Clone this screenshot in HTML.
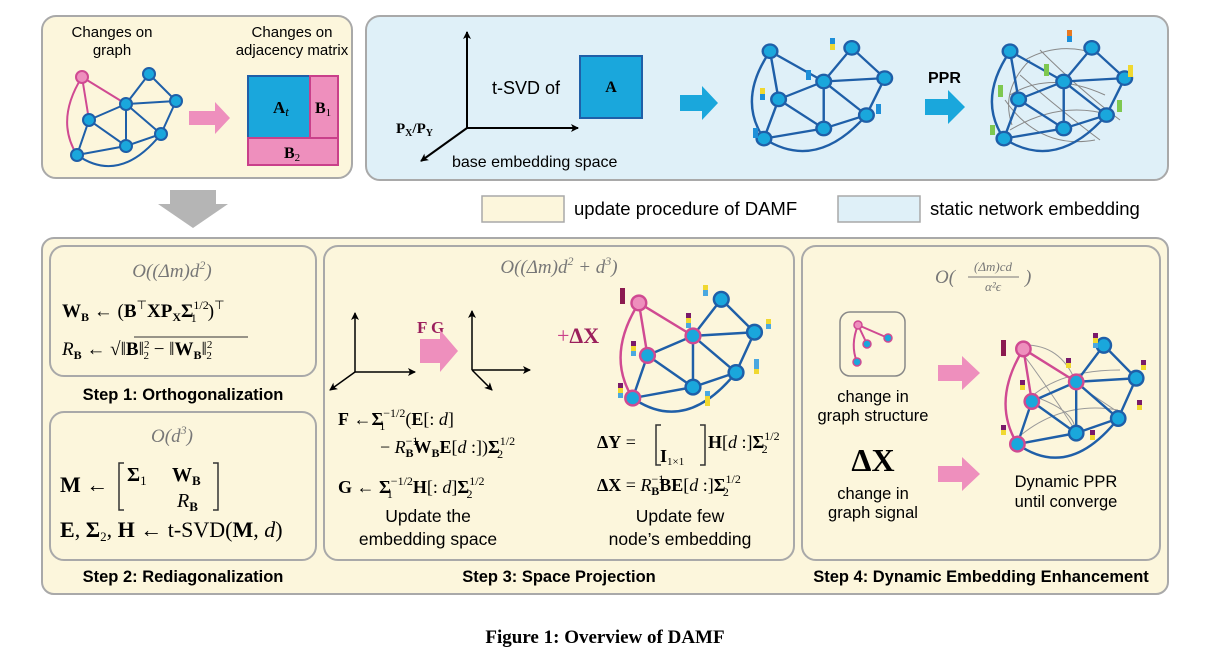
<!DOCTYPE html>
<html><head><meta charset="utf-8"><style>
html,body{margin:0;padding:0;background:#fff;}
svg{display:block;font-family:"Liberation Sans",sans-serif;}
.m{font-family:"Liberation Serif",serif;}
</style></head><body>
<svg width="1210" height="661" viewBox="0 0 1210 661" xmlns="http://www.w3.org/2000/svg">
<defs>
<marker id="ah" markerWidth="8" markerHeight="8" refX="7" refY="4" orient="auto" markerUnits="userSpaceOnUse"><path d="M0,0 L8,4 L0,8 L2,4z" fill="#000"/></marker>
<g id="gedges">
 <path d="M149,74 L126,104 M149,74 L176,101 M126,104 L176,101 M126,104 L89,120 M126,104 L126,146 M126,104 L161,134 M176,101 L161,134 M89,120 L126,146 M89,120 L77,155 M77,155 L126,146 M126,146 L161,134 M77,155 Q120,185 161,134" stroke="#1f5fa8" stroke-width="2" fill="none"/>
</g>
<g id="gplain">
 <use href="#gedges"/>
 <path d="M82,77 L126,104 M82,77 L89,120 M82,77 Q55,120 77,155" stroke="#1f5fa8" stroke-width="2" fill="none"/>
 <g fill="#1aa7dc" stroke="#1f5fa8" stroke-width="2">
 <circle cx="82" cy="77" r="6"/><circle cx="149" cy="74" r="6"/><circle cx="176" cy="101" r="6"/><circle cx="126" cy="104" r="6"/><circle cx="89" cy="120" r="6"/><circle cx="161" cy="134" r="6"/><circle cx="126" cy="146" r="6"/><circle cx="77" cy="155" r="6"/></g>
</g>
<g id="gpink">
 <use href="#gedges"/>
 <path d="M82,77 L126,104 M82,77 L89,120 M82,77 Q55,120 77,155" stroke="#d04a92" stroke-width="2" fill="none"/>
 <circle cx="82" cy="77" r="6" fill="#ee8fbd" stroke="#d04a92" stroke-width="2"/>
 <g fill="#1aa7dc" stroke="#1f5fa8" stroke-width="2">
 <circle cx="149" cy="74" r="6"/><circle cx="176" cy="101" r="6"/><circle cx="161" cy="134" r="6"/><circle cx="126" cy="146" r="6"/></g>
</g>
<g id="gpink2">
 <use href="#gedges"/>
 <path d="M82,77 L126,104 M82,77 L89,120 M82,77 Q55,120 77,155" stroke="#d04a92" stroke-width="2" fill="none"/>
 <circle cx="82" cy="77" r="6" fill="#ee8fbd" stroke="#d04a92" stroke-width="2"/>
 <g fill="#1aa7dc" stroke="#1f5fa8" stroke-width="2">
 <circle cx="149" cy="74" r="6"/><circle cx="176" cy="101" r="6"/><circle cx="161" cy="134" r="6"/><circle cx="126" cy="146" r="6"/></g>
 <g fill="#1aa7dc" stroke="#d04a92" stroke-width="2">
 <circle cx="126" cy="104" r="6"/><circle cx="89" cy="120" r="6"/><circle cx="77" cy="155" r="6"/></g>
</g>
</defs>

<!-- top left -->
<rect x="42" y="16" width="310" height="162" rx="14" fill="#fcf6dc" stroke="#a9a9a9" stroke-width="2"/>
<text x="112" y="37" font-size="15" text-anchor="middle">Changes on</text>
<text x="112" y="55" font-size="15" text-anchor="middle">graph</text>
<text x="292" y="37" font-size="15" text-anchor="middle">Changes on</text>
<text x="292" y="55" font-size="15" text-anchor="middle">adjacency matrix</text>
<use href="#gpink"/>
<g fill="#1aa7dc" stroke="#1f5fa8" stroke-width="2"><circle cx="126" cy="104" r="6"/><circle cx="89" cy="120" r="6"/><circle cx="77" cy="155" r="6"/></g>
<path d="M189,111 L215,111 L215,102 L230,118 L215,134 L215,125 L189,125z" fill="#ee8fbd"/>
<rect x="248" y="76" width="62" height="62" fill="#1aa7dc" stroke="#1f5fa8" stroke-width="2"/>
<rect x="310" y="76" width="28" height="62" fill="#ee8fbd" stroke="#c9408a" stroke-width="2"/>
<rect x="248" y="138" width="90" height="27" fill="#ee8fbd" stroke="#c9408a" stroke-width="2"/>
<text x="273" y="113" class="m" font-size="17" font-weight="bold">A<tspan font-style="italic" font-weight="normal" font-size="13" dy="3">t</tspan></text>
<text x="315" y="113" class="m" font-size="16" font-weight="bold">B<tspan font-weight="normal" font-size="11" dy="3">1</tspan></text>
<text x="284" y="158" class="m" font-size="16" font-weight="bold">B<tspan font-weight="normal" font-size="11" dy="3">2</tspan></text>

<!-- top right -->
<rect x="366" y="16" width="802" height="164" rx="14" fill="#dff0f8" stroke="#a9a9a9" stroke-width="2"/>
<path d="M467,128 L467,32" stroke="#000" stroke-width="2" marker-end="url(#ah)"/>
<path d="M467,128 L578,128" stroke="#000" stroke-width="2" marker-end="url(#ah)"/>
<path d="M467,128 L421,161" stroke="#000" stroke-width="2" marker-end="url(#ah)"/>
<text x="396" y="133" class="m" font-size="15" font-weight="bold">P<tspan font-size="10" dy="3">X</tspan><tspan dy="-3">/P</tspan><tspan font-size="10" dy="3">Y</tspan></text>
<text x="492" y="94" font-size="18">t-SVD of</text>
<rect x="580" y="56" width="62" height="62" fill="#1aa7dc" stroke="#1f5fa8" stroke-width="2"/>
<text x="611" y="92" class="m" font-size="16" font-weight="bold" text-anchor="middle">A</text>
<text x="452" y="167" font-size="16">base embedding space</text>
<path d="M680,95 L702,95 L702,86 L718,103 L702,120 L702,111 L680,111z" fill="#1aa7dc"/>
<g transform="translate(670,-35) scale(1.22,1.12)"><use href="#gplain"/></g>
<text x="928" y="83" font-size="16" font-weight="bold">PPR</text>
<path d="M925,99 L948,99 L948,90 L965,107 L948,124 L948,115 L925,115z" fill="#1aa7dc"/>
<g stroke="#888" stroke-width="1" fill="none">
<path d="M1025,60 Q1060,40 1100,55 M1010,95 Q1050,70 1105,95 M1010,130 Q1060,100 1110,115 M1020,75 Q1060,110 1100,140 M1040,50 Q1080,90 1120,120 M1005,100 Q1040,150 1095,140 M1030,60 Q1000,90 1012,125"/>
</g>
<g transform="translate(910,-35) scale(1.22,1.12)"><use href="#gplain"/></g>
<g>
<rect x="830" y="38" width="5" height="6" fill="#1e8fd8"/><rect x="830" y="44" width="5" height="6" fill="#f0d830"/>
<rect x="806" y="70" width="5" height="10" fill="#1e8fd8"/>
<rect x="876" y="104" width="5" height="10" fill="#1e8fd8"/>
<rect x="760" y="88" width="5" height="6" fill="#f0d830"/><rect x="760" y="94" width="5" height="6" fill="#1e8fd8"/>
<rect x="753" y="128" width="5" height="10" fill="#1e8fd8"/>
<rect x="1067" y="30" width="5" height="6" fill="#e87820"/><rect x="1067" y="36" width="5" height="6" fill="#1e8fd8"/>
<rect x="1128" y="65" width="5" height="12" fill="#f0d830"/>
<rect x="1044" y="64" width="5" height="12" fill="#7ec850"/>
<rect x="1117" y="100" width="5" height="12" fill="#7ec850"/>
<rect x="998" y="85" width="5" height="12" fill="#7ec850"/>
<rect x="990" y="125" width="5" height="10" fill="#7ec850"/>
</g>

<!-- legend -->
<path d="M170,190 L216,190 L216,204 L228,204 L193,228 L158,204 L170,204z" fill="#b5b5b5"/>
<rect x="482" y="196" width="82" height="26" fill="#fcf6dc" stroke="#a9a9a9" stroke-width="1.5"/>
<text x="574" y="215" font-size="18.5">update procedure of DAMF</text>
<rect x="838" y="196" width="82" height="26" fill="#dff0f8" stroke="#a9a9a9" stroke-width="1.5"/>
<text x="930" y="215" font-size="18.5">static network embedding</text>

<!-- big box -->
<rect x="42" y="238" width="1126" height="356" rx="12" fill="#fcf6dc" stroke="#a9a9a9" stroke-width="2"/>
<rect x="50" y="246" width="266" height="130" rx="14" fill="#fcf6dc" stroke="#a9a9a9" stroke-width="2"/>
<rect x="50" y="412" width="266" height="148" rx="14" fill="#fcf6dc" stroke="#a9a9a9" stroke-width="2"/>
<rect x="324" y="246" width="470" height="314" rx="14" fill="#fcf6dc" stroke="#a9a9a9" stroke-width="2"/>
<rect x="802" y="246" width="358" height="314" rx="14" fill="#fcf6dc" stroke="#a9a9a9" stroke-width="2"/>
<g font-size="16.5" font-weight="bold" text-anchor="middle">
<text x="183" y="400">Step 1: Orthogonalization</text>
<text x="183" y="582">Step 2: Rediagonalization</text>
<text x="559" y="582">Step 3: Space Projection</text>
<text x="981" y="582">Step 4: Dynamic Embedding Enhancement</text>
</g>

<!-- step1 -->
<g class="m" font-size="19">
<text x="172" y="277" text-anchor="middle" fill="#777" font-style="italic">O((Δm)d<tspan font-size="12" dy="-8">2</tspan><tspan dy="8">)</tspan></text>
<text x="62" y="317"><tspan font-weight="bold">W</tspan><tspan font-size="12" dy="4" font-weight="bold">B</tspan><tspan dy="-4"> ← (</tspan><tspan font-weight="bold">B</tspan><tspan font-size="12" dy="-8">⊤</tspan><tspan dy="8" font-weight="bold">XP</tspan><tspan font-size="12" dy="4" font-weight="bold">X</tspan><tspan dy="-4" font-weight="bold">Σ</tspan><tspan font-size="12" dy="-8">1/2</tspan><tspan font-size="12" dx="-18" dy="13">1</tspan><tspan dx="11" dy="-5">)</tspan><tspan font-size="12" dy="-8">⊤</tspan></text>
<text x="62" y="355"><tspan font-style="italic">R</tspan><tspan font-size="12" dy="4" font-weight="bold">B</tspan><tspan dy="-4"> ← √</tspan><tspan>‖</tspan><tspan font-weight="bold">B</tspan><tspan>‖</tspan><tspan font-size="11" dy="-7">2</tspan><tspan font-size="11" dx="-6" dy="11">2</tspan><tspan dy="-4"> − ‖</tspan><tspan font-weight="bold">W</tspan><tspan font-size="12" dy="4" font-weight="bold">B</tspan><tspan dy="-4">‖</tspan><tspan font-size="11" dy="-7">2</tspan><tspan font-size="11" dx="-6" dy="11">2</tspan></text>
<path d="M134,337 L248,337" stroke="#333" stroke-width="1"/>
<text x="172" y="442" text-anchor="middle" fill="#777" font-style="italic">O(d<tspan font-size="12" dy="-8">3</tspan><tspan dy="8">)</tspan></text>
<text x="60" y="492" font-size="22"><tspan font-weight="bold">M</tspan> ←</text>
<path d="M124,463 L119,463 L119,510 L124,510 M213,463 L218,463 L218,510 L213,510" stroke="#333" stroke-width="1.5" fill="none"/>
<text x="127" y="481" font-size="20" font-weight="bold">Σ<tspan font-size="13" font-weight="normal" dy="4">1</tspan></text>
<text x="172" y="481" font-size="20" font-weight="bold">W<tspan font-size="13" dy="4">B</tspan></text>
<text x="177" y="507" font-size="20" font-style="italic">R<tspan font-size="13" font-weight="bold" font-style="normal" dy="4">B</tspan></text>
<text x="60" y="537" font-size="22"><tspan font-weight="bold">E</tspan>, <tspan font-weight="bold">Σ</tspan><tspan font-size="13" dy="4">2</tspan><tspan dy="-4">, </tspan><tspan font-weight="bold">H</tspan> ← t-SVD(<tspan font-weight="bold">M</tspan>, <tspan font-style="italic">d</tspan>)</text>
</g>

<!-- step3 -->
<g class="m">
<text x="559" y="273" text-anchor="middle" fill="#777" font-style="italic" font-size="19">O((Δm)d<tspan font-size="12" dy="-8">2</tspan><tspan dy="8"> + d</tspan><tspan font-size="12" dy="-8">3</tspan><tspan dy="8">)</tspan></text>
<text x="417" y="333" font-size="17" font-weight="bold" fill="#9b1f5c">F  G</text>
<text x="557" y="343" font-size="22" fill="#c9408a">+<tspan font-weight="bold" fill="#9b1f5c">ΔX</tspan></text>
</g>
<path d="M420,339 L440,339 L440,330 L458,351 L440,372 L440,363 L420,363z" fill="#ee8fbd"/>
<path d="M355,372 L355,313" stroke="#000" stroke-width="1.5" marker-end="url(#ah)"/>
<path d="M355,372 L415,372" stroke="#000" stroke-width="1.5" marker-end="url(#ah)"/>
<path d="M355,372 L330,390" stroke="#000" stroke-width="1.5" marker-end="url(#ah)"/>
<path d="M472,370 L472,311" stroke="#000" stroke-width="1.5" marker-end="url(#ah)"/>
<path d="M472,370 L530,370" stroke="#000" stroke-width="1.5" marker-end="url(#ah)"/>
<path d="M472,370 L492,390" stroke="#000" stroke-width="1.5" marker-end="url(#ah)"/>
<g transform="translate(538,209) scale(1.23,1.22)"><use href="#gpink2"/></g>
<g>
<rect x="620" y="288" width="5" height="16" fill="#8b1a50"/>
<rect x="703" y="285" width="5" height="5" fill="#f0d830"/><rect x="703" y="290" width="5" height="6" fill="#4aa8e0"/>
<rect x="686" y="313" width="5" height="5" fill="#7a1a6a"/><rect x="686" y="318" width="5" height="5" fill="#f0d830"/><rect x="686" y="323" width="5" height="5" fill="#4aa8e0"/>
<rect x="766" y="319" width="5" height="5" fill="#f0d830"/><rect x="766" y="324" width="5" height="5" fill="#4aa8e0"/>
<rect x="631" y="341" width="5" height="5" fill="#7a1a6a"/><rect x="631" y="346" width="5" height="5" fill="#f0d830"/><rect x="631" y="351" width="5" height="5" fill="#4aa8e0"/>
<rect x="754" y="359" width="5" height="10" fill="#4aa8e0"/><rect x="754" y="369" width="5" height="5" fill="#f0d830"/>
<rect x="618" y="383" width="5" height="5" fill="#7a1a6a"/><rect x="618" y="388" width="5" height="5" fill="#f0d830"/><rect x="618" y="393" width="5" height="5" fill="#4aa8e0"/>
<rect x="705" y="391" width="5" height="5" fill="#4aa8e0"/><rect x="705" y="396" width="5" height="10" fill="#f0d830"/>
</g>
<g class="m" font-size="18">
<text x="338" y="425"><tspan font-weight="bold">F</tspan> ←<tspan font-weight="bold">Σ</tspan><tspan font-size="12" dy="-8">−1/2</tspan><tspan font-size="12" dx="-26" dy="13">1</tspan><tspan dx="20" dy="-5">(</tspan><tspan font-weight="bold">E</tspan>[: <tspan font-style="italic">d</tspan>]</text>
<text x="380" y="453">− <tspan font-style="italic">R</tspan><tspan font-size="12" dy="-8">−1</tspan><tspan font-size="12" font-weight="bold" dx="-13" dy="12">B</tspan><tspan dy="-4" font-weight="bold">W</tspan><tspan font-size="12" font-weight="bold" dy="4">B</tspan><tspan dy="-4" font-weight="bold">E</tspan>[<tspan font-style="italic">d</tspan> :])<tspan font-weight="bold">Σ</tspan><tspan font-size="12" dy="-8">1/2</tspan><tspan font-size="12" dx="-18" dy="13">2</tspan></text>
<text x="338" y="493"><tspan font-weight="bold">G</tspan> ← <tspan font-weight="bold">Σ</tspan><tspan font-size="12" dy="-8">−1/2</tspan><tspan font-size="12" dx="-26" dy="13">1</tspan><tspan dx="20" dy="-5" font-weight="bold">H</tspan>[: <tspan font-style="italic">d</tspan>]<tspan font-weight="bold">Σ</tspan><tspan font-size="12" dy="-8">1/2</tspan><tspan font-size="12" dx="-18" dy="13">2</tspan></text>
<text x="597" y="448"><tspan font-weight="bold">ΔY</tspan> = </text>
<path d="M661,425 L656,425 L656,465 L661,465 M700,425 L705,425 L705,465 L700,465" stroke="#333" stroke-width="1.5" fill="none"/>
<text x="660" y="462" font-weight="bold">I<tspan font-size="11" font-weight="normal" dy="3">1×1</tspan></text>
<text x="708" y="448"><tspan font-weight="bold">H</tspan>[<tspan font-style="italic">d</tspan> :]<tspan font-weight="bold">Σ</tspan><tspan font-size="12" dy="-8">1/2</tspan><tspan font-size="12" dx="-18" dy="13">2</tspan></text>
<text x="597" y="491"><tspan font-weight="bold">ΔX</tspan> = <tspan font-style="italic">R</tspan><tspan font-size="12" dy="-8">−1</tspan><tspan font-size="12" font-weight="bold" dx="-13" dy="12">B</tspan><tspan dy="-4" font-weight="bold">BE</tspan>[<tspan font-style="italic">d</tspan> :]<tspan font-weight="bold">Σ</tspan><tspan font-size="12" dy="-8">1/2</tspan><tspan font-size="12" dx="-18" dy="13">2</tspan></text>
</g>
<g font-size="17.5" text-anchor="middle">
<text x="428" y="522">Update the</text>
<text x="428" y="545">embedding space</text>
<text x="680" y="522">Update few</text>
<text x="680" y="545">node’s embedding</text>
</g>

<!-- step4 -->
<g class="m" fill="#777" font-style="italic">
<text x="935" y="283" font-size="19">O(</text>
<text x="993" y="271" font-size="13" text-anchor="middle">(Δm)cd</text>
<text x="993" y="291" font-size="13" text-anchor="middle">α²ϵ</text>
<text x="1025" y="283" font-size="19">)</text>
</g>
<path d="M968,277 L1019,277" stroke="#777" stroke-width="1"/>
<rect x="840" y="312" width="65" height="64" rx="10" fill="#fcf6dc" stroke="#888" stroke-width="1.5"/>
<path d="M858,325 L888,338 M858,325 L867,344 M858,325 Q850,345 857,362" stroke="#d04a92" stroke-width="2" fill="none"/>
<circle cx="858" cy="325" r="4" fill="#ee8fbd" stroke="#d04a92" stroke-width="1.5"/>
<circle cx="888" cy="338" r="4" fill="#1aa7dc" stroke="#d04a92" stroke-width="1.5"/>
<circle cx="867" cy="344" r="4" fill="#1aa7dc" stroke="#d04a92" stroke-width="1.5"/>
<circle cx="857" cy="362" r="4" fill="#1aa7dc" stroke="#d04a92" stroke-width="1.5"/>
<g font-size="16.5" text-anchor="middle">
<text x="873" y="402">change in</text>
<text x="873" y="421">graph structure</text>
<text x="873" y="499">change in</text>
<text x="873" y="518">graph signal</text>
<text x="1066" y="487">Dynamic PPR</text>
<text x="1066" y="507">until converge</text>
</g>
<text x="873" y="471" class="m" font-size="32" font-weight="bold" text-anchor="middle">ΔX</text>
<path d="M938,365 L962,365 L962,356 L980,373 L962,390 L962,381 L938,381z" fill="#ee8fbd"/>
<path d="M938,466 L962,466 L962,457 L980,474 L962,491 L962,482 L938,482z" fill="#ee8fbd"/>
<g stroke="#999" stroke-width="1" fill="none">
<path d="M1025,345 Q1060,345 1075,380 M1030,398 Q1060,370 1120,370 M1015,440 Q1060,400 1118,410 M1030,395 Q1075,410 1075,430 M1070,380 Q1100,400 1118,412 M1020,350 Q1050,390 1075,430"/>
</g>
<g transform="translate(925,255) scale(1.2,1.22)"><use href="#gpink2"/></g>
<g>
<rect x="1001" y="340" width="5" height="16" fill="#8b1a50"/>
<rect x="1093" y="333" width="5" height="5" fill="#7a1a6a"/><rect x="1093" y="338" width="5" height="5" fill="#f0d830"/><rect x="1093" y="343" width="5" height="5" fill="#4aa8e0"/>
<rect x="1066" y="358" width="5" height="5" fill="#7a1a6a"/><rect x="1066" y="363" width="5" height="5" fill="#f0d830"/>
<rect x="1141" y="360" width="5" height="5" fill="#7a1a6a"/><rect x="1141" y="365" width="5" height="5" fill="#f0d830"/>
<rect x="1020" y="380" width="5" height="5" fill="#7a1a6a"/><rect x="1020" y="385" width="5" height="5" fill="#f0d830"/>
<rect x="1137" y="400" width="5" height="5" fill="#7a1a6a"/><rect x="1137" y="405" width="5" height="5" fill="#f0d830"/>
<rect x="1001" y="425" width="5" height="5" fill="#7a1a6a"/><rect x="1001" y="430" width="5" height="5" fill="#f0d830"/>
<rect x="1090" y="430" width="5" height="5" fill="#7a1a6a"/><rect x="1090" y="435" width="5" height="5" fill="#f0d830"/>
</g>

<text x="605" y="643" class="m" font-size="19" font-weight="bold" text-anchor="middle">Figure 1: Overview of DAMF</text>
</svg>
</body></html>
